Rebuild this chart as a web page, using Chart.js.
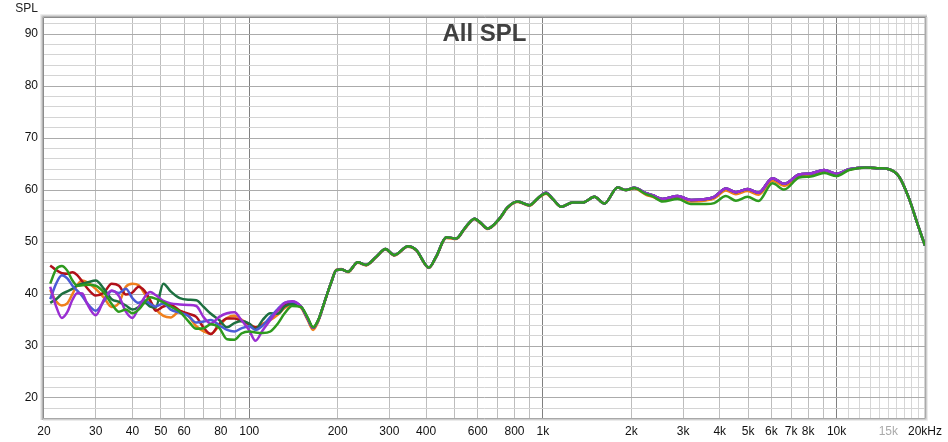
<!DOCTYPE html>
<html>
<head>
<meta charset="utf-8">
<title>All SPL</title>
<script src="https://cdn.jsdelivr.net/npm/chart.js@4.4.0/dist/chart.umd.min.js"></script>
<style>
    html, body { margin: 0; padding: 0; background: #ffffff; }
    #wrap { width: 948px; height: 442px; }
</style>
</head>
<body>
<div id="wrap"><canvas id="splChart" width="948" height="442"></canvas></div>
<script>
// Frequencies (Hz) where the low end curves are sampled
const freqLow = [21, 22, 23, 24, 25, 26, 27, 28, 30, 32, 34, 36, 38, 40, 42, 44, 46, 48,
    51, 54, 58, 62, 66, 70, 74, 79, 84, 89, 94, 100, 105, 111, 118, 125, 132, 140];

// Low end SPL (dB), one array per measurement
const lowRed = [45.5, 44.6, 44.0, 43.9, 44.2, 43.6, 42.4, 41.2, 39.7, 40.3, 42.0, 41.6, 39.9, 40.3, 41.4, 40.6, 38.8, 36.8,
    37.6, 37.9, 36.8, 36.2, 35.6, 33.5, 32.3, 34.2, 35.3, 35.3, 34.8, 34.2, 33.6, 34.0, 35.3, 36.8, 38.0, 38.3];
const lowBlue = [39.0, 42.0, 43.6, 43.0, 41.6, 40.6, 39.6, 38.3, 36.8, 38.6, 40.6, 40.2, 41.0, 39.2, 38.3, 38.8, 38.1, 37.6,
    38.2, 37.0, 36.4, 35.8, 34.5, 34.7, 35.0, 34.0, 33.1, 32.8, 33.4, 33.8, 33.1, 33.9, 35.6, 37.1, 38.3, 38.5];
const lowPurple = [41.4, 37.6, 35.4, 36.5, 38.9, 40.2, 40.1, 38.2, 35.9, 38.9, 40.7, 39.6, 36.6, 35.4, 37.4, 39.4, 40.4, 39.8,
    38.7, 38.2, 38.0, 37.9, 37.7, 35.5, 34.3, 35.6, 36.3, 36.5, 35.0, 33.0, 31.0, 33.0, 35.0, 36.9, 38.3, 38.6];
const lowOrange = [40.8, 38.6, 37.8, 38.2, 40.0, 41.8, 42.6, 42.3, 41.0, 39.3, 37.5, 38.3, 41.4, 42.0, 41.7, 40.1, 38.6, 37.1,
    35.8, 35.5, 36.7, 35.8, 33.8, 32.8, 32.3, 33.9, 35.4, 35.8, 35.1, 34.1, 33.6, 34.3, 35.0, 36.0, 37.3, 38.0];
const lowGreen = [42.0, 44.8, 45.4, 44.5, 42.6, 41.6, 41.7, 41.8, 41.6, 40.3, 38.1, 36.6, 37.0, 36.3, 37.0, 38.4, 39.4, 39.1,
    38.4, 37.6, 36.6, 34.8, 33.3, 33.4, 34.2, 33.5, 31.3, 31.2, 32.4, 32.8, 32.6, 32.5, 32.8, 34.3, 36.3, 37.7];
const lowDarkGreen = [38.3, 39.0, 40.0, 40.5, 41.0, 41.7, 42.0, 42.2, 42.6, 41.0, 39.0, 38.5, 37.8, 37.0, 37.5, 38.4, 37.6, 37.4,
    42.0, 40.5, 39.2, 38.9, 38.8, 37.5, 36.2, 35.0, 33.6, 34.4, 34.8, 34.3, 33.2, 35.0, 36.3, 36.2, 37.6, 38.1];

// Frequencies (Hz) above 150 Hz, where the measurements nearly overlap
const freqHigh = [150, 158, 165, 172, 180, 190, 198, 206, 217, 234, 250, 271, 291, 312, 347, 370, 409, 433, 469, 507,
    541, 585, 616, 649, 711, 759, 821, 900, 960, 1025, 1080, 1153, 1263, 1366, 1497, 1619, 1796, 1918, 2047, 2244,
    2363, 2556, 2875, 3192, 3591, 3831, 4199, 4541, 4972, 5420, 6049, 6630, 7455, 8169, 9069, 9988, 11030, 12570,
    13950, 15085, 16310, 17640, 18830, 20000];

const highMain = [37.6, 35.3, 33.5, 35.0, 38.3, 42.2, 44.6, 44.7, 44.3, 46.1, 45.6, 47.2, 48.65, 47.5, 49.2, 48.5, 45.1, 47.2, 50.9, 50.7,
    52.6, 54.5, 53.6, 52.6, 54.5, 56.7, 57.8, 57.1, 58.4, 59.5, 58.3, 56.8, 57.6, 57.6, 58.7, 57.4, 60.5, 60.0, 60.45, 59.4,
    59.0, 58.3, 58.85, 58.1, 58.3, 58.7, 60.3, 59.6, 60.2, 59.5, 62.25, 61.2, 63.0, 63.2, 63.85, 63.1, 64.0, 64.36,
    64.2, 64.0, 62.6, 58.4, 53.6, 49.3];
const highOrange = [37.4, 35.0, 33.1, 34.8, 38.2, 42.2, 44.7, 44.8, 44.2, 46.0, 45.5, 47.1, 48.55, 47.4, 49.1, 48.4, 45.0, 47.1, 50.8, 50.6,
    52.5, 54.4, 53.5, 52.5, 54.4, 56.6, 57.7, 57.0, 58.3, 59.3, 58.2, 56.8, 57.6, 57.6, 58.7, 57.4, 60.5, 60.0, 60.3, 59.1,
    58.7, 58.0, 58.5, 57.8, 58.0, 58.4, 59.9, 59.2, 59.8, 59.1, 61.8, 60.8, 62.6, 62.9, 63.5, 62.9, 63.9, 64.36,
    64.2, 64.0, 62.6, 58.4, 53.6, 49.3];
const highGreen = [37.5, 35.5, 33.6, 35.1, 38.3, 42.2, 44.6, 44.7, 44.3, 46.1, 45.6, 47.2, 48.65, 47.5, 49.2, 48.5, 45.1, 47.2, 50.9, 50.7,
    52.6, 54.5, 53.6, 52.6, 54.5, 56.7, 57.8, 57.1, 58.4, 59.4, 58.3, 56.8, 57.6, 57.6, 58.7, 57.4, 60.5, 60.0, 60.4, 59.2,
    58.8, 57.8, 58.3, 57.3, 57.3, 57.5, 58.85, 57.95, 58.7, 57.9, 61.3, 60.1, 62.4, 62.6, 63.3, 62.7, 63.85, 64.36,
    64.2, 64.0, 62.6, 58.4, 53.6, 49.3];

// Axis ticks
const xGridFreqs = [30, 40, 50, 60, 70, 80, 90, 100, 200, 300, 400, 500, 600, 700, 800, 900, 1000,
    2000, 3000, 4000, 5000, 6000, 7000, 8000, 9000, 10000, 11000, 12000, 13000, 14000, 15000,
    16000, 17000, 18000, 19000];
const xTickValues = [20, 30, 40, 50, 60, 80, 100, 200, 300, 400, 600, 800, 1000,
    2000, 3000, 4000, 5000, 6000, 7000, 8000, 10000, 15000, 20000];
const xTickLabels = ['20', '30', '40', '50', '60', '80', '100', '200', '300', '400', '600', '800', '1k',
    '2k', '3k', '4k', '5k', '6k', '7k', '8k', '10k', '15k', '20kHz'];
const yTickLabels = [20, 30, 40, 50, 60, 70, 80, 90];

const FONT = '"Liberation Sans", Arial, sans-serif';

function makeSeries(lowValues, highValues) {
    const low = freqLow.map((f, i) => ({ x: f, y: lowValues[i] }));
    const high = freqHigh.map((f, i) => ({ x: f, y: highValues[i] }));
    return low.concat(high);
}

function makeDataset(label, color, lowValues, highValues) {
    return {
        label: label,
        data: makeSeries(lowValues, highValues),
        borderColor: color,
        borderWidth: 2.5,
        pointRadius: 0,
        fill: false,
        cubicInterpolationMode: 'monotone'
    };
}

// Plot frame with a shaded edge, plus the title and unit labels
const framePlugin = {
    id: 'frame',
    afterDraw(chart) {
        const ctx = chart.ctx;
        const a = chart.chartArea;
        ctx.save();
        // left and top shaded edges
        const shades = ['#ececec', '#d4d4d4', '#b4b4b4', '#8c8c8c'];
        shades.forEach((c, i) => {
            const off = 3.5 - i;
            ctx.strokeStyle = c;
            ctx.lineWidth = 1;
            ctx.beginPath();
            ctx.moveTo(a.left - off, a.bottom + 2);
            ctx.lineTo(a.left - off, a.top - off);
            ctx.lineTo(a.right + 2, a.top - off);
            ctx.stroke();
        });
        // right and bottom edges
        const lows = ['#a8a8a8', '#cfcfcf', '#ebebeb'];
        lows.forEach((c, i) => {
            const off = 0.5 + i;
            ctx.strokeStyle = c;
            ctx.beginPath();
            ctx.moveTo(a.right + off, a.top - 1);
            ctx.lineTo(a.right + off, a.bottom + off);
            ctx.lineTo(a.left - 1, a.bottom + off);
            ctx.stroke();
        });
        // title
        ctx.fillStyle = '#404040';
        ctx.font = 'bold 24px ' + FONT;
        ctx.textAlign = 'center';
        ctx.textBaseline = 'middle';
        ctx.fillText('All SPL', (a.left + a.right) / 2, 34);
        // y unit
        ctx.fillStyle = '#222222';
        ctx.font = '12px ' + FONT;
        ctx.textAlign = 'right';
        ctx.fillText('SPL', 38, 9);
        ctx.restore();
    }
};

const ctx = document.getElementById('splChart');

// Chart.js paints the first dataset last, so green ends up on top
new Chart(ctx, {
    type: 'line',
    data: {
        datasets: [
            makeDataset('Green', '#2e9a1e', lowGreen, highGreen),
            makeDataset('Purple', '#9a2ed2', lowPurple, highMain),
            makeDataset('Blue', '#4b5bd6', lowBlue, highMain),
            makeDataset('Dark green', '#1d7040', lowDarkGreen, highMain),
            makeDataset('Red', '#b0101a', lowRed, highMain),
            makeDataset('Orange', '#f0801c', lowOrange, highOrange)
        ]
    },
    options: {
        responsive: false,
        devicePixelRatio: 1,
        animation: false,
        layout: { padding: { top: 18, right: 22, left: 0, bottom: 0 } },
        plugins: {
            legend: { display: false },
            tooltip: { enabled: false }
        },
        scales: {
            x: {
                type: 'logarithmic',
                min: 20,
                max: 20000,
                border: { display: false },
                afterBuildTicks: function(axis) {
                    const vals = xGridFreqs.concat(xTickValues.filter(v => xGridFreqs.indexOf(v) < 0));
                    vals.sort((a, b) => a - b);
                    axis.ticks = vals.map(v => ({ value: v }));
                },
                afterFit: function(axis) { axis.height = 24; },
                grid: {
                    drawTicks: false,
                    color: function(c) {
                        const v = c.tick ? c.tick.value : 0;
                        if (v === 100 || v === 1000 || v === 10000) return '#808080';
                        if (v > 10000) return '#d6d6d6';
                        if (v === 20 || v === 20000) return 'rgba(0,0,0,0)';
                        return '#bdbdbd';
                    }
                },
                ticks: {
                    autoSkip: false,
                    maxRotation: 0,
                    padding: 6,
                    font: { family: FONT, size: 12 },
                    color: function(c) {
                        return c.tick && c.tick.value === 15000 ? '#aaaaaa' : '#111111';
                    },
                    callback: function(value) {
                        const i = xTickValues.indexOf(value);
                        return i >= 0 ? xTickLabels[i] : '';
                    }
                }
            },
            y: {
                type: 'linear',
                min: 16.15,
                max: 93.1,
                border: { display: false },
                afterBuildTicks: function(axis) {
                    const t = [];
                    for (let v = 18; v <= 92; v += 2) t.push({ value: v });
                    axis.ticks = t;
                },
                afterFit: function(axis) { axis.width = 44; },
                grid: {
                    drawTicks: false,
                    color: function(c) {
                        const v = c.tick ? c.tick.value : 0;
                        return yTickLabels.indexOf(v) >= 0 ? '#ababab' : '#d4d4d4';
                    }
                },
                ticks: {
                    autoSkip: false,
                    padding: 6,
                    font: { family: FONT, size: 12 },
                    color: '#111111',
                    callback: function(value) {
                        return yTickLabels.indexOf(value) >= 0 ? String(value) : '';
                    }
                }
            }
        }
    },
    plugins: [framePlugin]
});
</script>
</body>
</html>
